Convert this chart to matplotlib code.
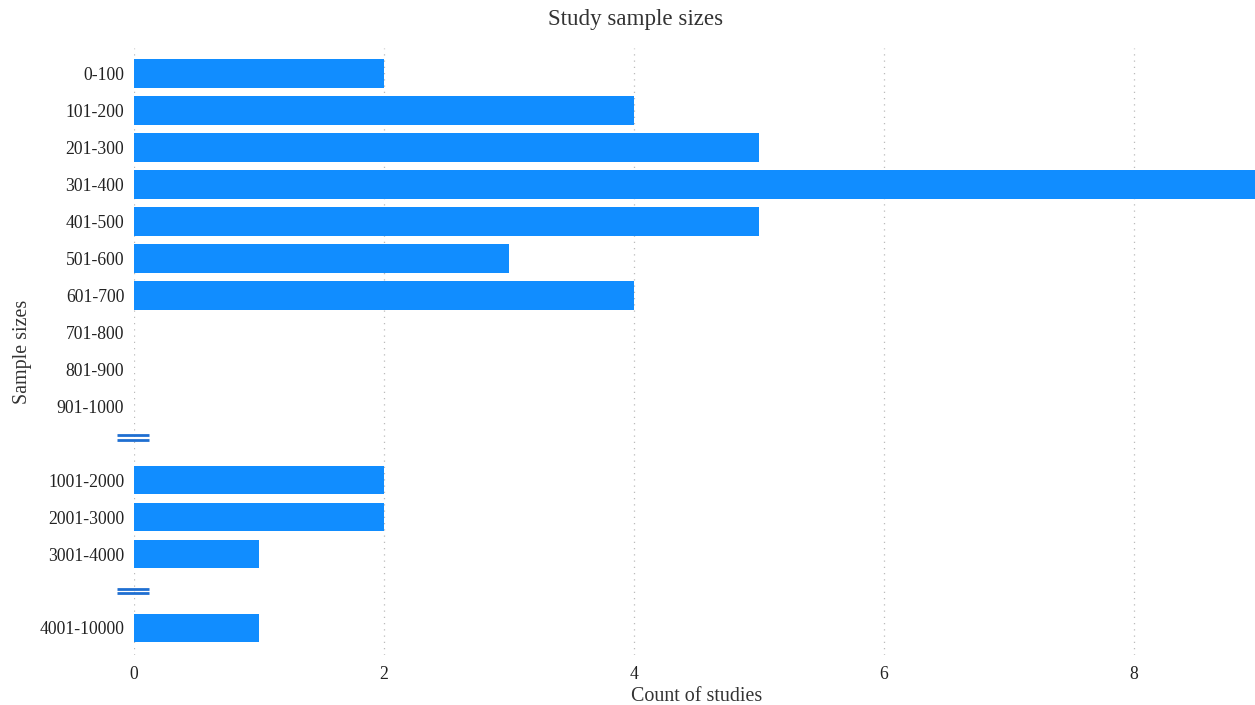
import matplotlib
matplotlib.use("Agg")
import matplotlib.pyplot as plt

categories = ["0-100", "101-200", "201-300", "301-400", "401-500", "501-600",
              "601-700", "701-800", "801-900", "901-1000",
              "1001-2000", "2001-3000", "3001-4000", "4001-10000"]
counts = [2, 4, 5, 9, 5, 3, 4, 0, 0, 0, 2, 2, 1, 1]
# slot positions (gaps for axis breaks at 10 and 14)
positions = [0, 1, 2, 3, 4, 5, 6, 7, 8, 9, 11, 12, 13, 15]
break_positions = [9.85, 14]
xticks = [0, 2, 4, 6, 8]

plt.rcParams['font.family'] = ['Liberation Serif', 'DejaVu Serif']

W, H = 1255, 705
fig = plt.figure(figsize=(W / 100, H / 100), dpi=100)
ax = fig.add_axes([134 / W, 1 - 655 / H, (1259 - 134) / W, (655 - 48) / H])

ax.barh(positions, counts, height=0.78, color="#118dff", linewidth=0, zorder=3)

ax.set_xlim(0, 9)
ax.set_ylim(15.73, -0.68)
ax.set_yticks(positions)
ax.set_yticklabels(categories, fontsize=12.7, color="#222222")
ax.set_xticks(xticks)
ax.set_xticklabels([str(t) for t in xticks], fontsize=12.7, color="#222222")
ax.tick_params(axis='both', length=0)
ax.tick_params(axis='y', pad=7)
ax.tick_params(axis='x', pad=8)
for s in ax.spines.values():
    s.set_visible(False)
ax.grid(axis='x', linestyle=(0, (1, 4)), color="#bbbbbb", linewidth=0.9, zorder=0)

for bp in break_positions:
    for dy in (-0.055, 0.055):
        ax.plot([-17 / 125, 15 / 125], [bp + dy, bp + dy], color="#1f6fd1",
                linewidth=2, clip_on=False, zorder=4, solid_capstyle='butt')

ax.set_xlabel("Count of studies", fontsize=14.4, color="#333333", labelpad=3)
ax.set_ylabel("Sample sizes", fontsize=14.4, color="#333333", labelpad=5)
fig.text(636 / W, 1 - 19 / H, "Study sample sizes", ha='center', va='center',
         fontsize=16.6, color="#333333")

fig.savefig("out.png", dpi=100)
